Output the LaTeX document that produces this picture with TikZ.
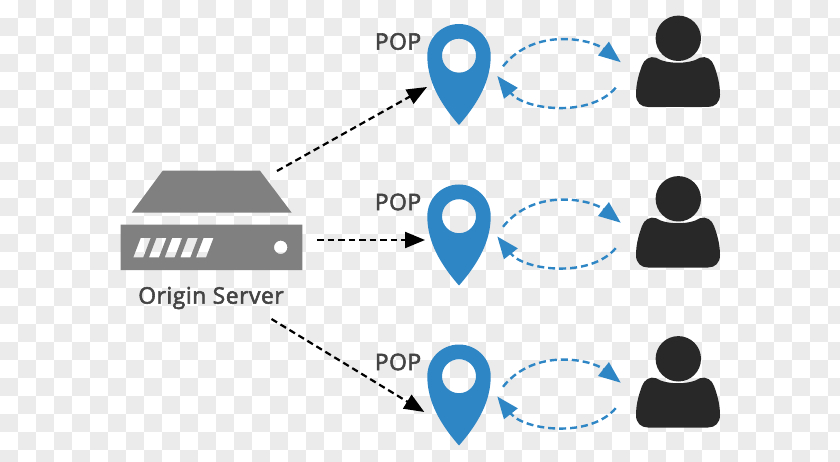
\documentclass[tikz,border=0pt]{standalone}
\usepackage{fontspec}
\setmainfont{Open Sans}[FakeBold=2.5,LetterSpace=2.5]
\usepackage{xcolor}
\usetikzlibrary{arrows.meta,calc}
\definecolor{CheckGray}{HTML}{EBEBEB}
\definecolor{PinBlue}{HTML}{2F86C5}
\definecolor{UserDark}{HTML}{282828}
\definecolor{ServerGray}{HTML}{808080}
\definecolor{LabelGray}{HTML}{444444}
\tikzset{
  iconbox/.style={inner sep=0pt,outer sep=0pt},
  label text/.style={text=LabelGray,font=\fontsize{22.8}{25}\selectfont,inner sep=0pt},
  feedline/.style={-{Triangle[length=20pt,width=16pt]},line width=2.2pt,dash pattern=on 6.5pt off 4pt},
  backline/.style={-{Triangle[length=22pt,width=17pt]},line width=2.4pt,dash pattern=on 7pt off 4pt,PinBlue},
  pinmark/.pic={
    \fill[PinBlue,even odd rule] (-31.7,-18.8) arc (180:360:31.7)
      .. controls (31.7,1.2) and (24,23.2) .. (0,50.5)
      .. controls (-24,23.2) and (-31.7,1.2) .. (-31.7,-18.8) -- cycle
      (0,-18.8) circle (17);
  },
  usermark/.pic={
    \fill[UserDark] (0.3,-23.2) circle (22.7);
    \fill[UserDark] (-22,-3.8) .. controls (-12,2.9) and (12,2.9) .. (22,-3.8)
      .. controls (28,-6) and (34,-2) .. (36,4)
      .. controls (39,12) and (42,22) .. (42,33)
      .. controls (42,41) and (37,45.5) .. (30,45.5) -- (-30,45.5)
      .. controls (-37,45.5) and (-42,41) .. (-42,33)
      .. controls (-42,22) and (-39,12) .. (-36,4)
      .. controls (-34,-2) and (-28,-6) .. (-22,-3.8) -- cycle;
  }
}
\begin{document}
\begin{tikzpicture}[x=1pt,y=-1pt]
  \useasboundingbox (0,0) rectangle (840,462);
  % checkered backdrop
  \foreach \i in {0,...,46}
    \foreach \j in {0,...,25} {
      \pgfmathparse{int(mod(\i+\j,2))}
      \ifnum\pgfmathresult=1
        \fill[CheckGray] (18*\i,18*\j) rectangle +(18,18);
      \fi
    }

  % server
  \node[iconbox,minimum width=181pt,minimum height=99pt] (server) at (211.5,220.5) {};
  \fill[ServerGray] (162.7,170.7) -- (260,170.7) -- (291.7,212.7) -- (131.7,212.7) -- cycle;
  \fill[ServerGray,even odd rule] (120.7,224.7) rectangle (302.3,270)
    (280.7,247.3) circle (6.7)
    \foreach \s in {0,...,4} {
      (133.3+15.7*\s,257.3) -- (143.3+15.7*\s,257.3) -- (150.7+15.7*\s,238) -- (140.7+15.7*\s,238) -- cycle
    };
  \node[label text] (origin) at (211,298) {Origin Server};

  % one row per point of presence
  \foreach \r/\y in {A/0,B/160.5,C/320.5} {
    \node[iconbox,minimum width=64pt,minimum height=101pt] (pin\r) at (459,74.5+\y) {};
    \node[iconbox,minimum width=84pt,minimum height=91pt] (user\r) at (678,61.5+\y) {};
    \pic at (pin\r) {pinmark};
    \pic at (user\r) {usermark};
    \node[label text] (pop\r) at (398,41.5+\y) {POP};
    \draw[backline] ([shift={(12,-8.2)}]pin\r.east)
      .. controls +(32,-40) and ([shift={(-44,-22)}]user\r.west) .. ([shift={(-15.3,0.7)}]user\r.west);
    \draw[backline] ([shift={(-20.3,26.2)}]user\r.west)
      .. controls +(-25.7,30.3) and ([shift={(33,35.5)}]pin\r.east) .. ([shift={(6.3,1.5)}]pin\r.east);
  }

  \draw[feedline] ([shift={(65.5,0)}]server.north) -- ([shift={(0,12.5)}]pinA.west);
  \draw[feedline] ([shift={(15,19.5)}]server.east) -- ([shift={(-2,5)}]pinB.west);
  \draw[feedline] ([shift={(60,49)}]server.south) -- ([shift={(-2.7,17)}]pinC.west);
\end{tikzpicture}
\end{document}
